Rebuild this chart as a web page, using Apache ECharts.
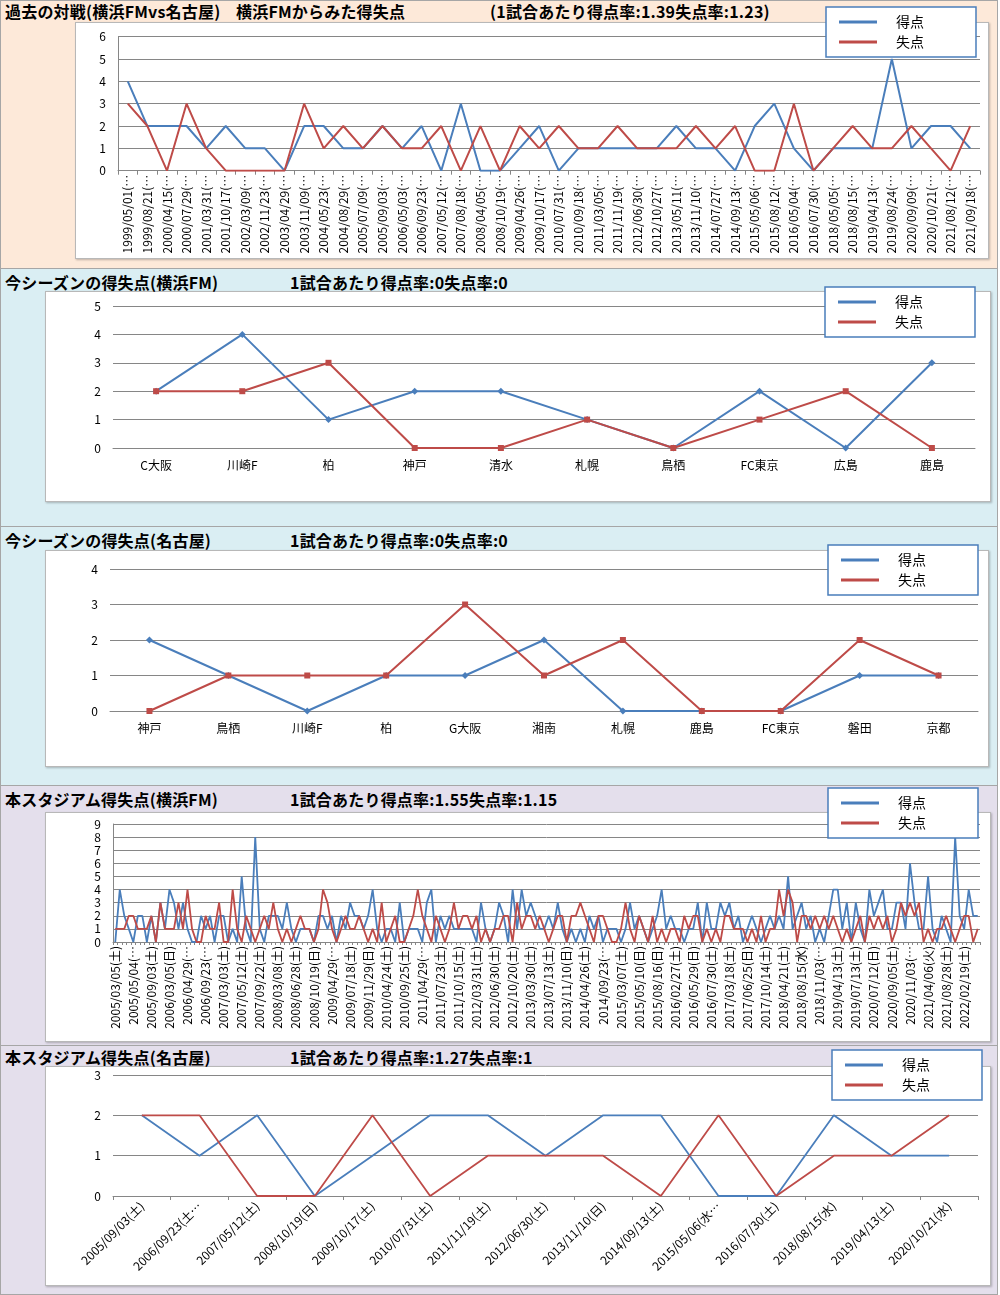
<!DOCTYPE html>
<html><head><meta charset="utf-8">
<script src="https://cdn.jsdelivr.net/npm/echarts@6/dist/echarts.min.js"></script>
<style>
html,body{margin:0;padding:0;}
body{width:1000px;height:1295px;position:relative;overflow:hidden;font-family:"Noto Sans CJK JP",sans-serif;}
.panel{position:absolute;left:0;width:998px;border:1px solid #a6a6a6;box-sizing:border-box;}
.box{position:absolute;background:#fff;border:1px solid #b8b8b8;box-shadow:1px 1px 2px rgba(0,0,0,0.25);}
.t{position:absolute;font-weight:bold;font-size:16px;white-space:nowrap;color:#000;letter-spacing:0.2px;line-height:18px;}
#chart{position:absolute;left:0;top:0;width:1000px;height:1295px;}
</style></head>
<body>
<div class="panel" style="top:0;height:269px;background:#fde9d9"></div>
<div class="panel" style="top:268px;height:259px;background:#daeef3"></div>
<div class="panel" style="top:526px;height:260px;background:#daeef3"></div>
<div class="panel" style="top:785px;height:261px;background:#e4dfec"></div>
<div class="panel" style="top:1045px;height:250px;background:#e4dfec"></div>
<div class="box" style="left:75px;top:22px;width:912px;height:235px"></div>
<div class="box" style="left:45px;top:291px;width:944px;height:209px"></div>
<div class="box" style="left:45px;top:550px;width:942px;height:215px"></div>
<div class="box" style="left:45px;top:812px;width:944px;height:228px"></div>
<div class="box" style="left:45px;top:1066px;width:944px;height:218px"></div>
<div class="t" style="left:5px;top:2px">過去の対戦(横浜FMvs名古屋)</div>
<div class="t" style="left:236px;top:2px">横浜FMからみた得失点</div>
<div class="t" style="left:490px;top:2px">(1試合あたり得点率:1.39失点率:1.23)</div>
<div class="t" style="left:5px;top:273px">今シーズンの得失点(横浜FM)</div>
<div class="t" style="left:290px;top:273px">1試合あたり得点率:0失点率:0</div>
<div class="t" style="left:5px;top:531px">今シーズンの得失点(名古屋)</div>
<div class="t" style="left:290px;top:531px">1試合あたり得点率:0失点率:0</div>
<div class="t" style="left:5px;top:790px">本スタジアム得失点(横浜FM)</div>
<div class="t" style="left:290px;top:790px">1試合あたり得点率:1.55失点率:1.15</div>
<div class="t" style="left:5px;top:1048px">本スタジアム得失点(名古屋)</div>
<div class="t" style="left:290px;top:1048px">1試合あたり得点率:1.27失点率:1</div>
<div id="chart"></div>
<script>
// ---- Panel 1: 過去の対戦 ----
const h2hDates = ['1999/05/01','1999/08/21','2000/04/15','2000/07/29','2001/03/31','2001/10/17','2002/03/09','2002/11/23','2003/04/29','2003/11/09','2004/05/23','2004/08/29','2005/07/09','2005/09/03','2006/05/03','2006/09/23','2007/05/12','2007/08/18','2008/04/05','2008/10/19','2009/04/26','2009/10/17','2010/07/31','2010/09/18','2011/03/05','2011/11/19','2012/06/30','2012/10/27','2013/05/11','2013/11/10','2014/07/27','2014/09/13','2015/05/06','2015/08/12','2016/05/04','2016/07/30','2018/05/05','2018/08/15','2019/04/13','2019/08/24','2020/09/09','2020/10/21','2021/08/12','2021/09/18'];
const h2hFor     = [4,2,2,2,1,2,1,1,0,2,2,1,1,2,1,2,0,3,0,0,1,2,0,1,1,1,1,1,2,1,1,0,2,3,1,0,1,1,1,5,1,2,2,1];
const h2hAgainst = [3,2,0,3,1,0,0,0,0,3,1,2,1,2,1,1,2,0,2,0,2,1,2,1,1,2,1,1,1,2,1,2,0,0,3,0,1,2,1,1,2,1,0,2];

// ---- Panel 2: 今シーズン(横浜FM) ----
const fmOpp     = ['C大阪','川崎F','柏','神戸','清水','札幌','鳥栖','FC東京','広島','鹿島'];
const fmFor     = [2,4,1,2,2,1,0,2,0,3];
const fmAgainst = [2,2,3,0,0,1,0,1,2,0];

// ---- Panel 3: 今シーズン(名古屋) ----
const ngOpp     = ['神戸','鳥栖','川崎F','柏','G大阪','湘南','札幌','鹿島','FC東京','磐田','京都'];
const ngFor     = [2,1,0,1,1,2,0,0,0,1,1];
const ngAgainst = [0,1,1,1,3,1,2,0,0,2,1];

// ---- Panel 4: 本スタジアム(横浜FM) ----
const homeTickLabels = ['2005/03/05(土)','2005/05/04(…','2005/09/03(土)','2006/03/05(日)','2006/04/29(…','2006/09/23(…','2007/03/03(土)','2007/05/12(土)','2007/09/22(土)','2008/03/08(土)','2008/06/28(土)','2008/10/19(日)','2009/04/29(…','2009/07/18(土)','2009/11/29(日)','2010/04/24(土)','2010/09/25(土)','2011/04/29(…','2011/07/23(土)','2011/10/15(土)','2012/03/31(土)','2012/06/30(土)','2012/10/20(土)','2013/03/30(土)','2013/07/13(土)','2013/11/10(日)','2014/04/26(土)','2014/09/23(…','2015/03/07(土)','2015/05/10(日)','2015/08/16(日)','2016/02/27(土)','2016/05/29(日)','2016/07/30(土)','2017/03/18(土)','2017/06/25(日)','2017/10/14(土)','2018/04/21(土)','2018/08/15(水)','2018/11/03(…','2019/04/13(土)','2019/07/13(土)','2020/07/12(日)','2020/09/05(土)','2020/11/03(…','2021/04/06(火)','2021/08/28(土)','2022/02/19(土)'];
const homeFor = [0,4,2,1,0,2,2,0,2,0,3,1,4,3,1,3,1,0,0,2,1,2,0,2,2,0,1,0,5,1,0,8,1,0,2,
 2,2,1,3,1,0,1,1,1,0,2,2,1,2,0,2,1,3,2,2,1,2,4,1,0,1,1,0,3,
 0,1,1,1,0,3,4,0,2,1,2,1,1,1,1,1,0,3,1,0,1,3,2,0,4,1,4,2,3,2,1,1,2,1,3,1,0,1,0,1,0,2,1,2,0,1,1,1,0,1,3,1,2,1,0,1,2,4,1,2,1,1,0,1,1,
 3,0,3,1,1,3,2,3,1,2,0,1,2,1,0,1,2,1,2,1,5,1,2,3,1,2,0,1,0,2,4,4,1,3,0,3,1,0,4,2,3,4,1,1,3,3,1,6,3,1,1,5,1,0,2,1,0,8,2,1,4,2,2];
const homeAgainst = [1,1,1,2,2,1,1,1,2,0,3,1,1,1,3,1,4,1,0,0,2,1,1,3,0,0,4,1,0,2,1,0,1,2,1,
 3,1,0,1,0,1,2,1,1,0,1,4,3,1,0,1,2,1,1,2,1,0,1,0,3,0,1,2,0,
 0,1,2,4,2,1,0,2,1,0,1,3,1,2,2,1,2,0,1,0,1,1,2,2,0,3,1,2,2,1,2,1,0,1,2,2,0,2,2,3,2,1,0,2,2,1,0,0,1,3,1,0,2,1,0,2,0,1,0,1,1,0,2,1,2,
 2,0,1,0,1,0,2,2,1,1,1,0,1,0,2,0,1,1,4,2,4,3,0,2,2,1,2,1,2,1,2,1,0,1,0,1,2,0,2,1,2,1,2,0,1,3,2,3,2,3,0,1,0,1,1,2,1,0,1,2,2,0,1];

// ---- Panel 5: 本スタジアム(名古屋) ----
const awayDates   = ['2005/09/03(土)','2006/09/23(土…','2007/05/12(土)','2008/10/19(日)','2009/10/17(土)','2010/07/31(土)','2011/11/19(土)','2012/06/30(土)','2013/11/10(日)','2014/09/13(土)','2015/05/06(水…','2016/07/30(土)','2018/08/15(水)','2019/04/13(土)','2020/10/21(水)'];
const awayFor     = [2,1,2,0,1,2,2,1,2,2,0,0,2,1,1];
const awayAgainst = [2,2,0,0,2,0,1,1,1,0,2,0,1,1,2];

const BLUE = '#4a7ebb', RED = '#be4b48';
const FONT = '"Noto Sans CJK JP", sans-serif';
const homeCats = homeFor.map((v, i) => (i % 4 === 0 && homeTickLabels[i / 4]) ? homeTickLabels[i / 4] : '');

const grids = [
  {left:118, top:36.7, width:862, height:134},
  {left:113, top:306, width:862, height:142},
  {left:110, top:569, width:868, height:142},
  {left:113, top:824, width:867, height:118},
  {left:113, top:1075, width:865, height:121}
];
const yMax = [6,5,4,9,3];
const catData = [h2hDates.map(d => d + '(…'), fmOpp, ngOpp, homeCats, awayDates];

const xAxes = catData.map((cats, i) => ({
  type:'category', gridIndex:i, data:cats, boundaryGap:true,
  axisLine:{show:true, lineStyle:{color:'#868686', width:1}},
  axisTick:{show: i===0 || i===3 || i===4, interval: i===3 ? 0 : 'auto', length: i===3 ? 3 : 4, lineStyle:{color:'#868686'}},
  axisLabel:{
    color:'#000', fontFamily:FONT,
    fontSize: 12,
    rotate: (i===0 || i===3) ? 90 : (i===4 ? 45 : 0),
    interval: i===3 ? 3 : 0,
    margin: (i===0 || i===3) ? 4 : (i===4 ? 8 : 11)
  }
}));
const yAxes = yMax.map((m, i) => ({
  type:'value', gridIndex:i, min:0, max:m, interval:1,
  axisLine:{show: i===0 || i===3, lineStyle:{color:'#868686'}},
  axisTick:{show:false},
  splitLine:{lineStyle:{color:'#868686', width:1}},
  axisLabel:{color:'#000', fontSize:12, fontFamily:FONT, margin:12}
}));

function mk(name, data, gi, color, sym, w) {
  return {
    name, type:'line', xAxisIndex:gi, yAxisIndex:gi, data,
    symbol: sym || 'none', symbolSize: sym === 'diamond' ? 7 : 6, showSymbol: !!sym,
    itemStyle:{color}, lineStyle:{color, width: w || 2},
    animation:false, z: name === '失点' ? 3 : 2
  };
}
const series = [
  mk('得点', h2hFor, 0, BLUE), mk('失点', h2hAgainst, 0, RED),
  mk('得点', fmFor, 1, BLUE, 'diamond'), mk('失点', fmAgainst, 1, RED, 'rect'),
  mk('得点', ngFor, 2, BLUE, 'diamond'), mk('失点', ngAgainst, 2, RED, 'rect'),
  mk('得点', homeFor, 3, BLUE, null, 1.8), mk('失点', homeAgainst, 3, RED, null, 1.8),
  mk('得点', awayFor, 4, BLUE, null, 1.8), mk('失点', awayAgainst, 4, RED, null, 1.8)
];

const ICON = 'path://M0,0 M0,5.5 L38,5.5 L38,8.5 L0,8.5 Z M38,14';
const legendPos = [[826,7],[825,287],[828,545],[828,788],[832,1050]];
const legends = legendPos.map(p => ({
  left:p[0], top:p[1], orient:'vertical',
  data:[{name:'得点', icon:ICON}, {name:'失点', icon:ICON}],
  itemWidth:38, itemHeight:14, itemGap:6,
  padding:[8,52,8,13],
  backgroundColor:'#fff', borderColor:'#4a7ebb', borderWidth:1.5,
  textStyle:{fontSize:14, color:'#000', fontFamily:FONT, padding:[0,0,0,14]},
  selectedMode:false
}));

const chart = echarts.init(document.getElementById('chart'), null, {renderer:'canvas'});
chart.setOption({
  backgroundColor:'transparent',
  animation:false,
  grid:grids,
  xAxis:xAxes,
  yAxis:yAxes,
  legend:legends,
  series
});
</script>
</body></html>
